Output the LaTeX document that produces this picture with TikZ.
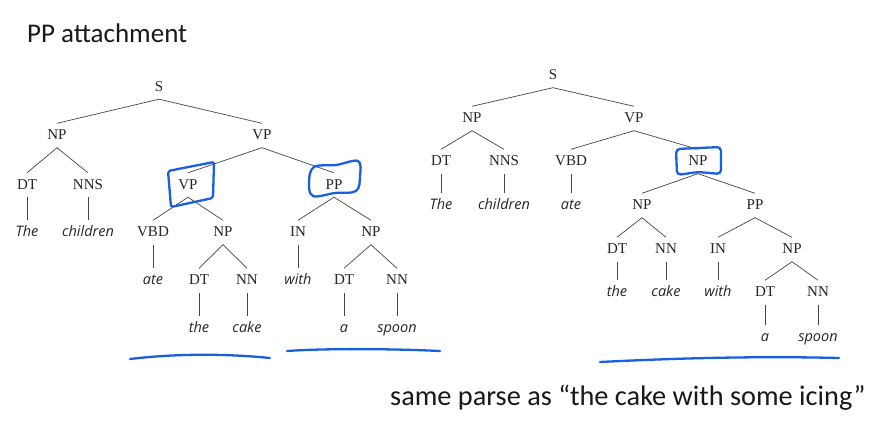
\documentclass[tikz,border=0pt]{standalone}
\usepackage{fontspec}
\newfontfamily\calfont{Carlito}
\newfontfamily\wordfont{Open Sans}
\newfontfamily\lblfont{Liberation Serif}
\definecolor{treeline}{RGB}{70,70,70}
\definecolor{penblue}{RGB}{25,95,225}
\begin{document}
\begin{tikzpicture}[x=1pt,y=-1pt,
  lbl/.style={anchor=base,font=\lblfont\fontsize{15}{17}\selectfont,text height=8pt,text depth=0pt,inner ysep=8pt,inner xsep=1pt,text=black!85},
  wrd/.style={anchor=base,font=\wordfont\itshape\fontsize{14.5}{16}\selectfont,text height=8pt,text depth=0pt,inner ysep=8pt,inner xsep=1pt,text=black!85},
  edge/.style={draw=treeline,line width=0.7pt},
  pen/.style={draw=penblue,line width=2.3pt,line cap=round,line join=round},
  big/.style={font=\calfont\fontsize{27}{32}\selectfont,inner sep=0pt,text=black!90}]
\useasboundingbox (0,0) rectangle (876,429);
\fill[white] (0,0) rectangle (876,429);

% titles
\node[big,anchor=base west] (title) at (27,42) {PP attachment};
\node[big,anchor=base west,font=\calfont\fontsize{28.3}{32}\selectfont] (note) at (390,405) {same parse as “the cake with some icing”};

% ---------- left tree ----------
\node[lbl] (LS) at (159,91) {S};
\node[lbl] (LNP) at (57,139.5) {NP};
\node[lbl] (LVP) at (262,139.5) {VP};
\node[lbl] (LDT1) at (27,189) {DT};
\node[lbl] (LNNS) at (88,189) {NNS};
\node[lbl] (LVP2) at (188,189) {VP};
\node[lbl] (LPP) at (334,189) {PP};
\node[wrd] (LThe) at (27,236) {The};
\node[wrd] (Lchildren) at (88,236) {children};
\node[lbl] (LVBD) at (153,236.5) {VBD};
\node[lbl] (LNP2) at (223,236.5) {NP};
\node[lbl] (LIN) at (298,236.5) {IN};
\node[lbl] (LNP3) at (371,236.5) {NP};
\node[wrd] (Late) at (153,284) {ate};
\node[lbl] (LDT2) at (199,284.5) {DT};
\node[lbl] (LNN1) at (247,284.5) {NN};
\node[wrd] (Lwith) at (298,284) {with};
\node[lbl] (LDT3) at (344,284.5) {DT};
\node[lbl] (LNN2) at (397,284.5) {NN};
\node[wrd] (Lthe) at (199,332) {the};
\node[wrd] (Lcake) at (247,332) {cake};
\node[wrd] (La) at (344,332) {a};
\node[wrd] (Lspoon) at (397,332) {spoon};

\foreach \p/\c in {LS/LNP,LS/LVP,LNP/LDT1,LNP/LNNS,LDT1/LThe,LNNS/Lchildren,
  LVP/LVP2,LVP/LPP,LVP2/LVBD,LVP2/LNP2,LVBD/Late,LNP2/LDT2,LNP2/LNN1,LDT2/Lthe,LNN1/Lcake,
  LPP/LIN,LPP/LNP3,LIN/Lwith,LNP3/LDT3,LNP3/LNN2,LDT3/La,LNN2/Lspoon}
  \draw[edge] (\p.south) -- (\c.north);

% ---------- right tree ----------
\node[lbl] (RS) at (553,79.5) {S};
\node[lbl] (RNP) at (472,122.5) {NP};
\node[lbl] (RVP) at (634,122.5) {VP};
\node[lbl] (RDT1) at (441,165.5) {DT};
\node[lbl] (RNNS) at (504,165.5) {NNS};
\node[lbl] (RVBD) at (571,165.5) {VBD};
\node[lbl] (RNP2) at (698,165.5) {NP};
\node[wrd] (RThe) at (441,209) {The};
\node[wrd] (Rchildren) at (504,209) {children};
\node[wrd] (Rate) at (571,209) {ate};
\node[lbl] (RNP3) at (642,209.5) {NP};
\node[lbl] (RPP) at (755,209.5) {PP};
\node[lbl] (RDT2) at (617,253.5) {DT};
\node[lbl] (RNN1) at (666,253.5) {NN};
\node[lbl] (RIN) at (718,253.5) {IN};
\node[lbl] (RNP4) at (792,253.5) {NP};
\node[wrd] (Rthe) at (617,296) {the};
\node[wrd] (Rcake) at (666,296) {cake};
\node[wrd] (Rwith) at (718,296) {with};
\node[lbl] (RDT3) at (765,296.5) {DT};
\node[lbl] (RNN2) at (818,296.5) {NN};
\node[wrd] (Ra) at (765,341) {a};
\node[wrd] (Rspoon) at (818,341) {spoon};

\foreach \p/\c in {RS/RNP,RS/RVP,RNP/RDT1,RNP/RNNS,RDT1/RThe,RNNS/Rchildren,
  RVP/RVBD,RVP/RNP2,RVBD/Rate,RNP2/RNP3,RNP2/RPP,RNP3/RDT2,RNP3/RNN1,RDT2/Rthe,RNN1/Rcake,
  RPP/RIN,RPP/RNP4,RIN/Rwith,RNP4/RDT3,RNP4/RNN2,RDT3/Ra,RNN2/Rspoon}
  \draw[edge] (\p.south) -- (\c.north);

% ---------- blue pen marks ----------
\draw[pen,rounded corners=2pt] (168,171) -- (214,162) -- (213,198) -- (171,207) -- cycle;
\draw[pen] plot[smooth cycle,tension=0.6] coordinates {(314,167) (336,165) (358,161) (360,176) (356,191) (335,193) (313,196) (309,182)};
\draw[pen,rounded corners=4pt] (676,149) -- (721,147) -- (721,174) -- (698,172) -- (677,175) -- cycle;
\draw[pen] (130,359) .. controls (180,353) and (230,354) .. (270,358);
\draw[pen] (287,351) .. controls (330,348) and (400,349) .. (440,351);
\draw[pen] (600,362) .. controls (680,358) and (760,356) .. (839,358);
\end{tikzpicture}
\end{document}
